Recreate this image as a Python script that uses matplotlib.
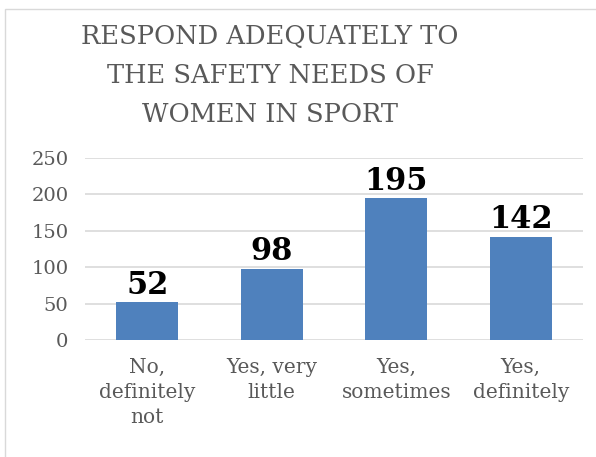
import matplotlib.pyplot as plt
import matplotlib.patches as mpatches
import numpy as np

"""
Bar chart: respond adequately to the safety needs of women in sport
"""

categories = ['No,\ndefinitely\nnot', 'Yes, very\nlittle', 'Yes,\nsometimes', 'Yes,\ndefinitely']
counts = [52, 98, 195, 142]
yticks = [0, 50, 100, 150, 200, 250]
title = 'RESPOND ADEQUATELY TO\nTHE SAFETY NEEDS OF\nWOMEN IN SPORT'

serif = 'DejaVu Serif'

W, H = 596, 457
fig = plt.figure(figsize=(W/100., H/100.), dpi=100, facecolor='w')
ax = fig.add_axes([85./W, 1 - 340./H, 498./W, 182./H])

x = np.arange(len(categories))
ax.bar(x, counts, width=0.5, color='#4f81bd', zorder=2)
for xi, v in zip(x, counts):
    ax.text(xi, v + 2, str(v), ha='center', va='bottom', family=serif,
            weight='bold', size=22, color='k')

ax.set_xlim(-0.5, len(categories) - 0.5)
ax.set_ylim(0, 250)
ax.set_yticks(yticks)
ax.set_yticklabels([str(t) for t in yticks], family=serif, size=14, color='#595959')
ax.set_xticks(x)
ax.set_xticklabels(categories, family=serif, size=14.5, color='#595959', linespacing=1.4)
ax.tick_params(length=0, pad=12)
ax.tick_params(axis='x', pad=13)
ax.grid(axis='y', color='#d9d9d9', lw=1.2, zorder=0)
for s in ax.spines.values():
    s.set_visible(False)

fig.text(270./W, 1 - 76./H, title, ha='center', va='center', family=serif,
         size=18.5, color='#595959', linespacing=1.7)

# chart border (clipped on the right and bottom)
fig.patches.append(mpatches.Rectangle((5./W, -0.1), 1.2, 1 - 9./H + 0.1, transform=fig.transFigure,
                                      fill=False, ec='#d9d9d9', lw=1))

plt.savefig('out.png', dpi=100)
